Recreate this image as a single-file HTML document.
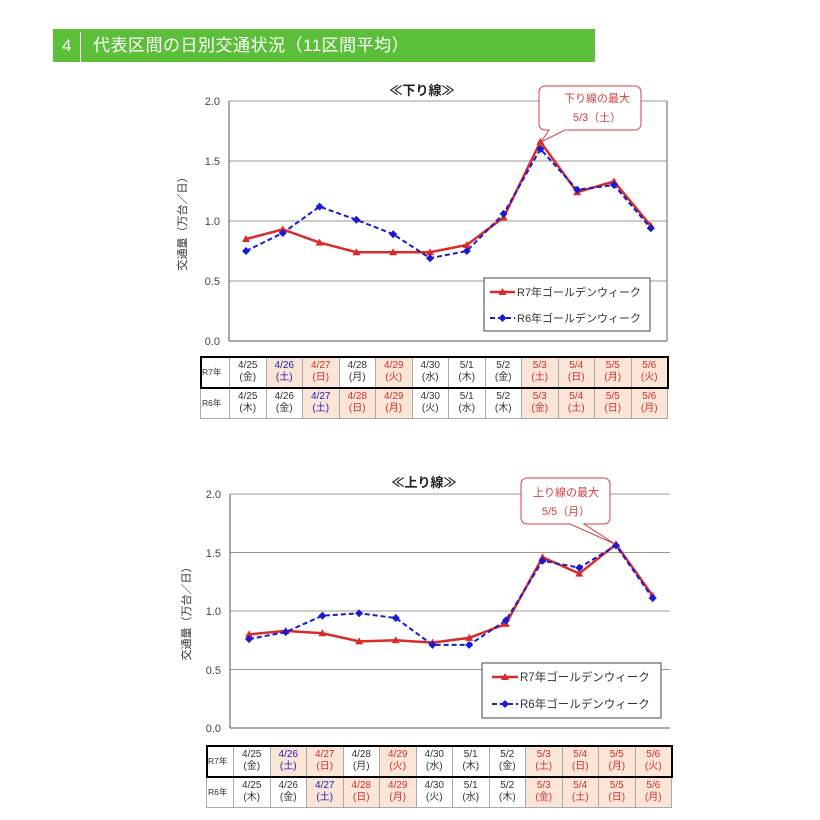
<!DOCTYPE html>
<html><head><meta charset="utf-8"><style>
body{margin:0;width:820px;height:820px;background:#fff;position:relative;overflow:hidden;font-family:"Liberation Sans","Noto Sans CJK JP",sans-serif}
.hdr{position:absolute;left:53px;top:29px;width:542px;height:33px;background:#5cbf3a;color:#fff;font-size:17px;line-height:33px}
.hdr .n{position:absolute;left:9px;top:0}
.hdr .d{position:absolute;left:27px;top:3px;width:1px;height:30px;background:#fff}
.hdr .t{position:absolute;left:40px;top:0;letter-spacing:0.5px}
table{position:absolute;border-collapse:collapse;table-layout:fixed;font-size:10px;line-height:12px;color:#333;width:468px}
td{border:1px solid #aaa;text-align:center;padding:0;height:30px}
td.l{font-size:8.5px;text-align:left;padding-left:1px}
.h{background:#fbe5d6;color:#d03030}.b{color:#2020c0}.hb{background:#fbe5d6;color:#2020c0}
tr.r7{outline:2px solid #000;outline-offset:-1px}
svg{position:absolute;left:0;top:0}
</style></head><body>
<div class="hdr"><span class="n">4</span><span class="d"></span><span class="t">代表区間の日別交通状況（11区間平均）</span></div>
<svg width="820" height="820" font-family="Liberation Sans,Noto Sans CJK JP,sans-serif">
<text x="422" y="95" font-size="13" font-weight="bold" text-anchor="middle" fill="#222">≪下り線≫</text>
<g stroke="#999" stroke-width="1">
<line x1="229" y1="101" x2="667" y2="101"/><line x1="229" y1="161" x2="667" y2="161"/><line x1="229" y1="221" x2="667" y2="221"/><line x1="229" y1="281" x2="667" y2="281"/>
</g>
<line x1="667" y1="101" x2="667" y2="341" stroke="#666"/>
<line x1="229" y1="101" x2="229" y2="341" stroke="#555"/><line x1="229" y1="341" x2="667" y2="341" stroke="#555"/>
<g font-size="11" fill="#444" text-anchor="end"><text x="220" y="105">2.0</text><text x="220" y="165">1.5</text><text x="220" y="225">1.0</text><text x="220" y="285">0.5</text><text x="220" y="345">0.0</text></g>
<text transform="translate(186,221) rotate(-90)" font-size="11" fill="#333" text-anchor="middle">交通量（万台／日）</text>
<polyline fill="none" stroke="#d92b2b" stroke-width="2.5" points="246,239 282.8,229.4 319.6,242.6 356.4,252.2 393.2,252.2 430,252.2 466.8,245 503.6,217.4 540.4,141.8 577.2,192.2 614,181.4 650.8,225.8"/>
<polyline fill="none" stroke="#1a1ad0" stroke-width="2" stroke-dasharray="5,3" points="246,251 282.8,233 319.6,206.6 356.4,219.8 393.2,234.2 430,258.2 466.8,251 503.6,213.8 540.4,149 577.2,189.8 614,185 650.8,228.2"/>
<g fill="#d92b2b"><path d="M246,235l4,7h-8z"/><path d="M282.8,225.4l4,7h-8z"/><path d="M319.6,238.6l4,7h-8z"/><path d="M356.4,248.2l4,7h-8z"/><path d="M393.2,248.2l4,7h-8z"/><path d="M430,248.2l4,7h-8z"/><path d="M466.8,241l4,7h-8z"/><path d="M503.6,213.4l4,7h-8z"/><path d="M540.4,137.8l4,7h-8z"/><path d="M577.2,188.2l4,7h-8z"/><path d="M614,177.4l4,7h-8z"/><path d="M650.8,221.8l4,7h-8z"/></g>
<g fill="#1a1ad0"><path d="M246,247l4,4-4,4-4-4z"/><path d="M282.8,229l4,4-4,4-4-4z"/><path d="M319.6,202.6l4,4-4,4-4-4z"/><path d="M356.4,215.8l4,4-4,4-4-4z"/><path d="M393.2,230.2l4,4-4,4-4-4z"/><path d="M430,254.2l4,4-4,4-4-4z"/><path d="M466.8,247l4,4-4,4-4-4z"/><path d="M503.6,209.8l4,4-4,4-4-4z"/><path d="M540.4,145l4,4-4,4-4-4z"/><path d="M577.2,185.8l4,4-4,4-4-4z"/><path d="M614,181l4,4-4,4-4-4z"/><path d="M650.8,224.2l4,4-4,4-4-4z"/></g>
<rect x="484" y="278" width="166" height="53" fill="#fff" stroke="#444"/>
<line x1="490" y1="292" x2="515" y2="292" stroke="#d92b2b" stroke-width="2.5"/><path d="M502.5,288l4,7h-8z" fill="#d92b2b"/>
<line x1="490" y1="318" x2="515" y2="318" stroke="#1a1ad0" stroke-width="2" stroke-dasharray="5,3"/><path d="M502.5,314l4,4-4,4-4-4z" fill="#1a1ad0"/>
<g font-size="11" fill="#333"><text x="517" y="296">R7年ゴールデンウィーク</text><text x="517" y="322">R6年ゴールデンウィーク</text></g>
<path d="M559,86h76a6,6 0 0 1 6,6v32a6,6 0 0 1-6,6h-70l-24,12l8,-12h-4a6,6 0 0 1-6-6v-32a6,6 0 0 1 6-6z" fill="#fff" stroke="#d04040"/>
<g font-size="11" fill="#d04040" text-anchor="middle"><text x="597" y="102">下り線の最大</text><text x="597" y="121">5/3（土）</text></g>
<text x="424" y="487" font-size="13" font-weight="bold" text-anchor="middle" fill="#222">≪上り線≫</text>
<g stroke="#999" stroke-width="1">
<line x1="230" y1="494" x2="670" y2="494"/><line x1="230" y1="552.5" x2="670" y2="552.5"/><line x1="230" y1="611" x2="670" y2="611"/><line x1="230" y1="669.5" x2="670" y2="669.5"/>
</g>
<line x1="230" y1="494" x2="230" y2="728" stroke="#555"/><line x1="230" y1="728" x2="670" y2="728" stroke="#555"/>
<g font-size="11" fill="#444" text-anchor="end"><text x="221" y="498">2.0</text><text x="221" y="557">1.5</text><text x="221" y="615">1.0</text><text x="221" y="674">0.5</text><text x="221" y="732">0.0</text></g>
<text transform="translate(190,611) rotate(-90)" font-size="11" fill="#333" text-anchor="middle">交通量（万台／日）</text>
<polyline fill="none" stroke="#d92b2b" stroke-width="2.5" points="249,634.4 285.7,630.9 322.4,633.2 359.1,641.4 395.8,640.3 432.5,642.6 469.2,637.9 505.9,623.9 542.6,557.2 579.3,573.6 616,544.3 652.7,595.8"/>
<polyline fill="none" stroke="#1a1ad0" stroke-width="2" stroke-dasharray="5,3" points="249,639.1 285.7,632.1 322.4,615.7 359.1,613.3 395.8,618 432.5,644.9 469.2,644.9 505.9,620.4 542.6,560.7 579.3,567.7 616,545.5 652.7,598.1"/>
<g fill="#d92b2b"><path d="M249,630.4l4,7h-8z"/><path d="M285.7,626.9l4,7h-8z"/><path d="M322.4,629.2l4,7h-8z"/><path d="M359.1,637.4l4,7h-8z"/><path d="M395.8,636.3l4,7h-8z"/><path d="M432.5,638.6l4,7h-8z"/><path d="M469.2,633.9l4,7h-8z"/><path d="M505.9,619.9l4,7h-8z"/><path d="M542.6,553.2l4,7h-8z"/><path d="M579.3,569.6l4,7h-8z"/><path d="M616,540.3l4,7h-8z"/><path d="M652.7,591.8l4,7h-8z"/></g>
<g fill="#1a1ad0"><path d="M249,635.1l4,4-4,4-4-4z"/><path d="M285.7,628.1l4,4-4,4-4-4z"/><path d="M322.4,611.7l4,4-4,4-4-4z"/><path d="M359.1,609.3l4,4-4,4-4-4z"/><path d="M395.8,614l4,4-4,4-4-4z"/><path d="M432.5,640.9l4,4-4,4-4-4z"/><path d="M469.2,640.9l4,4-4,4-4-4z"/><path d="M505.9,616.4l4,4-4,4-4-4z"/><path d="M542.6,556.7l4,4-4,4-4-4z"/><path d="M579.3,563.7l4,4-4,4-4-4z"/><path d="M616,541.5l4,4-4,4-4-4z"/><path d="M652.7,594.1l4,4-4,4-4-4z"/></g>
<rect x="482" y="663" width="179" height="55" fill="#fff" stroke="#444"/>
<line x1="492" y1="677" x2="518" y2="677" stroke="#d92b2b" stroke-width="2.5"/><path d="M505,673l4,7h-8z" fill="#d92b2b"/>
<line x1="492" y1="704" x2="518" y2="704" stroke="#1a1ad0" stroke-width="2" stroke-dasharray="5,3"/><path d="M505,700l4,4-4,4-4-4z" fill="#1a1ad0"/>
<g font-size="11.5" fill="#333"><text x="520" y="681">R7年ゴールデンウィーク</text><text x="520" y="708">R6年ゴールデンウィーク</text></g>
<path d="M527,478h77a6,6 0 0 1 6,6v34a6,6 0 0 1-6,6h-20l31,20l-45,-20h-43a6,6 0 0 1-6-6v-34a6,6 0 0 1 6-6z" fill="#fff" stroke="#d04040"/>
<g font-size="11" fill="#d04040" text-anchor="middle"><text x="566" y="496">上り線の最大</text><text x="566" y="515">5/5（月）</text></g>
</svg>
<table style="left:200px;top:356px">
<colgroup><col style="width:29px"><col span="12"></colgroup>
<tr class="r7"><td class="l">R7年</td><td>4/25<br>(金)</td><td class="hb">4/26<br>(土)</td><td class="h">4/27<br>(日)</td><td>4/28<br>(月)</td><td class="h">4/29<br>(火)</td><td>4/30<br>(水)</td><td>5/1<br>(木)</td><td>5/2<br>(金)</td><td class="h">5/3<br>(土)</td><td class="h">5/4<br>(日)</td><td class="h">5/5<br>(月)</td><td class="h">5/6<br>(火)</td></tr>
<tr><td class="l">R6年</td><td>4/25<br>(木)</td><td>4/26<br>(金)</td><td class="hb">4/27<br>(土)</td><td class="h">4/28<br>(日)</td><td class="h">4/29<br>(月)</td><td>4/30<br>(火)</td><td>5/1<br>(水)</td><td>5/2<br>(木)</td><td class="h">5/3<br>(金)</td><td class="h">5/4<br>(土)</td><td class="h">5/5<br>(日)</td><td class="h">5/6<br>(月)</td></tr>
</table>
<table style="left:206px;top:745px;width:466px">
<colgroup><col style="width:27px"><col span="12"></colgroup>
<tr class="r7"><td class="l">R7年</td><td>4/25<br>(金)</td><td class="hb">4/26<br>(土)</td><td class="h">4/27<br>(日)</td><td>4/28<br>(月)</td><td class="h">4/29<br>(火)</td><td>4/30<br>(水)</td><td>5/1<br>(木)</td><td>5/2<br>(金)</td><td class="h">5/3<br>(土)</td><td class="h">5/4<br>(日)</td><td class="h">5/5<br>(月)</td><td class="h">5/6<br>(火)</td></tr>
<tr><td class="l">R6年</td><td>4/25<br>(木)</td><td>4/26<br>(金)</td><td class="hb">4/27<br>(土)</td><td class="h">4/28<br>(日)</td><td class="h">4/29<br>(月)</td><td>4/30<br>(火)</td><td>5/1<br>(水)</td><td>5/2<br>(木)</td><td class="h">5/3<br>(金)</td><td class="h">5/4<br>(土)</td><td class="h">5/5<br>(日)</td><td class="h">5/6<br>(月)</td></tr>
</table>
</body></html>
